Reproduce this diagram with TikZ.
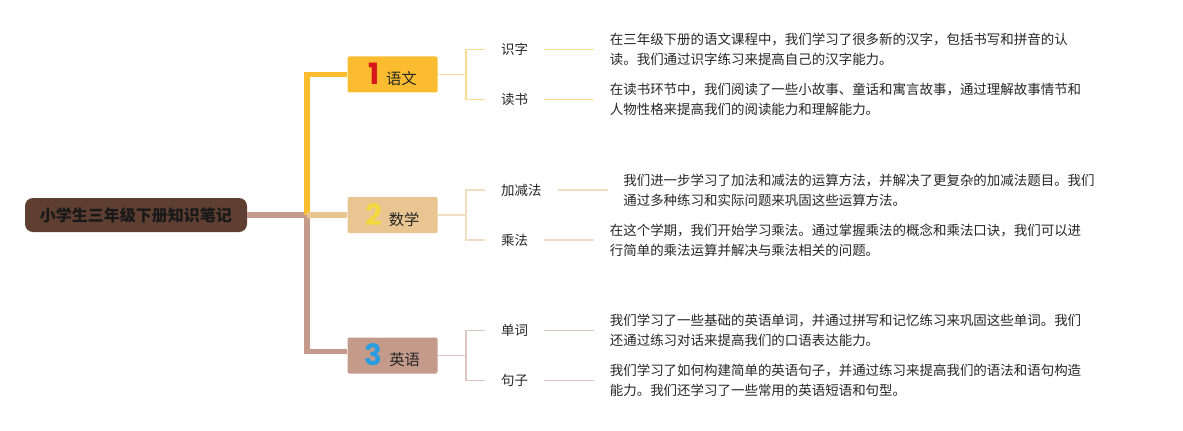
\documentclass[tikz,border=0pt]{standalone}
\usepackage{fontspec}
\setmainfont{Noto Sans CJK SC}
\newfontfamily\numfont{Poppins}
\usepackage{tikz}
\usetikzlibrary{positioning}

\definecolor{rootbrown}{HTML}{5E3F32}
\definecolor{yuwengold}{HTML}{FBBD2F}
\definecolor{shuxuetan}{HTML}{E9C592}
\definecolor{yingyutaupe}{HTML}{C49A8B}
\definecolor{yuwenlight}{HTML}{F9DC94}
\definecolor{shuxuelight}{HTML}{F0DEC2}
\definecolor{yingyulight}{HTML}{DCC6BE}
\definecolor{numred}{HTML}{D7161E}
\definecolor{numyellow}{HTML}{F4D840}
\definecolor{numblue}{HTML}{2A9DE0}
\definecolor{notegray}{HTML}{262626}

\tikzstyle{rootnode} = [
    rectangle,                 % Shape
    fill=rootbrown,            % Dark brown background
    rounded corners=6pt,       % Rounded ends
    minimum width=166.5pt,     % Width
    minimum height=25.5pt,     % Height
    text=black!90,
    font=\fontsize{12}{14}\selectfont\bfseries
]
\tikzstyle{subjbox} = [
    rectangle,
    rounded corners=1.5pt,
    minimum width=67.5pt,
    minimum height=27pt,
    inner sep=0pt,
    text=black!85,
    font=\fontsize{11.5}{14}\selectfont
]
\tikzstyle{leaf} = [inner xsep=12pt, inner ysep=2pt, text=notegray, font=\fontsize{10.1}{15}\selectfont]
\tikzstyle{note} = [align=left, inner xsep=11.5pt, inner ysep=2pt, text=notegray, font=\fontsize{10.1}{15}\selectfont]
\tikzstyle{trunk} = [line width=4.2pt]
\tikzstyle{twig} = [line width=1.3pt]

\newcommand{\subjnum}[2]{{\numfont\fontsize{22}{22}\selectfont\bfseries\color{#1}#2}\hspace{5pt}}

\begin{document}
\begin{tikzpicture}[x=0.75pt, y=-0.75pt, node distance=37.5pt]
		\useasboundingbox (0,0) rectangle (1183,430);

		% Central topic
		\node[rootnode] (root) at (136,215) {小学生三年级下册知识笔记};

		% Subjects
		\node[subjbox, fill=shuxuetan, right=75pt of root] (shuxue) {\subjnum{numyellow}{2}数学};
		\node[subjbox, fill=yuwengold, above=78pt of shuxue] (yuwen) {\subjnum{numred}{1}语文};
		\node[subjbox, fill=yingyutaupe, below=78pt of shuxue] (yingyu) {\subjnum{numblue}{3}英语};

		% Chinese topics
		\node[leaf, right=35.25pt of yuwen.east, yshift=18.75pt] (shizi) {识字};
		\node[leaf, right=35.25pt of yuwen.east, yshift=-18.75pt] (dushu) {读书};
		\node[note, right=of shizi] (shizinote) {在三年级下册的语文课程中，我们学习了很多新的汉字，包括书写和拼音的认\\读。我们通过识字练习来提高自己的汉字能力。};
		\node[note, right=of dushu] (dushunote) {在读书环节中，我们阅读了一些小故事、童话和寓言故事，通过理解故事情节和\\人物性格来提高我们的阅读能力和理解能力。};

		% Maths topics
		\node[leaf, right=35.25pt of shuxue.east, yshift=18.75pt] (jiajian) {加减法};
		\node[leaf, right=35.25pt of shuxue.east, yshift=-18.75pt] (chengfa) {乘法};
		\node[note, right=of jiajian] (jiajiannote) {我们进一步学习了加法和减法的运算方法，并解决了更复杂的加减法题目。我们\\通过多种练习和实际问题来巩固这些运算方法。};
		\node[note, right=of chengfa] (chengfanote) {在这个学期，我们开始学习乘法。通过掌握乘法的概念和乘法口诀，我们可以进\\行简单的乘法运算并解决与乘法相关的问题。};

		% English topics
		\node[leaf, right=35.25pt of yingyu.east, yshift=18.75pt] (danci) {单词};
		\node[leaf, right=35.25pt of yingyu.east, yshift=-18.75pt] (juzi) {句子};
		\node[note, right=of danci] (dancinote) {我们学习了一些基础的英语单词，并通过拼写和记忆练习来巩固这些单词。我们\\还通过练习对话来提高我们的口语表达能力。};
		\node[note, right=of juzi] (juzinote) {我们学习了如何构建简单的英语句子，并通过练习来提高我们的语法和语句构造\\能力。我们还学习了一些常用的英语短语和句型。};

		% Main branches
		\coordinate (hub) at (307,215);
		\draw[trunk, yingyutaupe] (root.east) -- (hub) |- ([yshift=3pt]yingyu.west);
		\draw[trunk, yuwengold] (hub) |- (yuwen.west);
		\draw[trunk, shuxuetan] (hub) -- (shuxue.west);

		% Brackets
		\draw[twig, yuwenlight] (yuwen.east) -- ++(28,0) coordinate (yuwenfork);
		\draw[twig, yuwenlight] (yuwenfork) |- (shizi.west);
		\draw[twig, yuwenlight] (yuwenfork) |- (dushu.west);
		\draw[twig, yuwenlight] (shizi.east) -- (shizinote.west);
		\draw[twig, yuwenlight] (dushu.east) -- (dushunote.west);

		\draw[twig, shuxuelight] (shuxue.east) -- ++(28,0) coordinate (shuxuefork);
		\draw[twig, shuxuelight] (shuxuefork) |- (jiajian.west);
		\draw[twig, shuxuelight] (shuxuefork) |- (chengfa.west);
		\draw[twig, shuxuelight] (jiajian.east) -- (jiajiannote.west);
		\draw[twig, shuxuelight] (chengfa.east) -- (chengfanote.west);

		\draw[twig, yingyulight] (yingyu.east) -- ++(28,0) coordinate (yingyufork);
		\draw[twig, yingyulight] (yingyufork) |- (danci.west);
		\draw[twig, yingyulight] (yingyufork) |- (juzi.west);
		\draw[twig, yingyulight] (danci.east) -- (dancinote.west);
		\draw[twig, yingyulight] (juzi.east) -- (juzinote.west);
	\end{tikzpicture}
\end{document}
